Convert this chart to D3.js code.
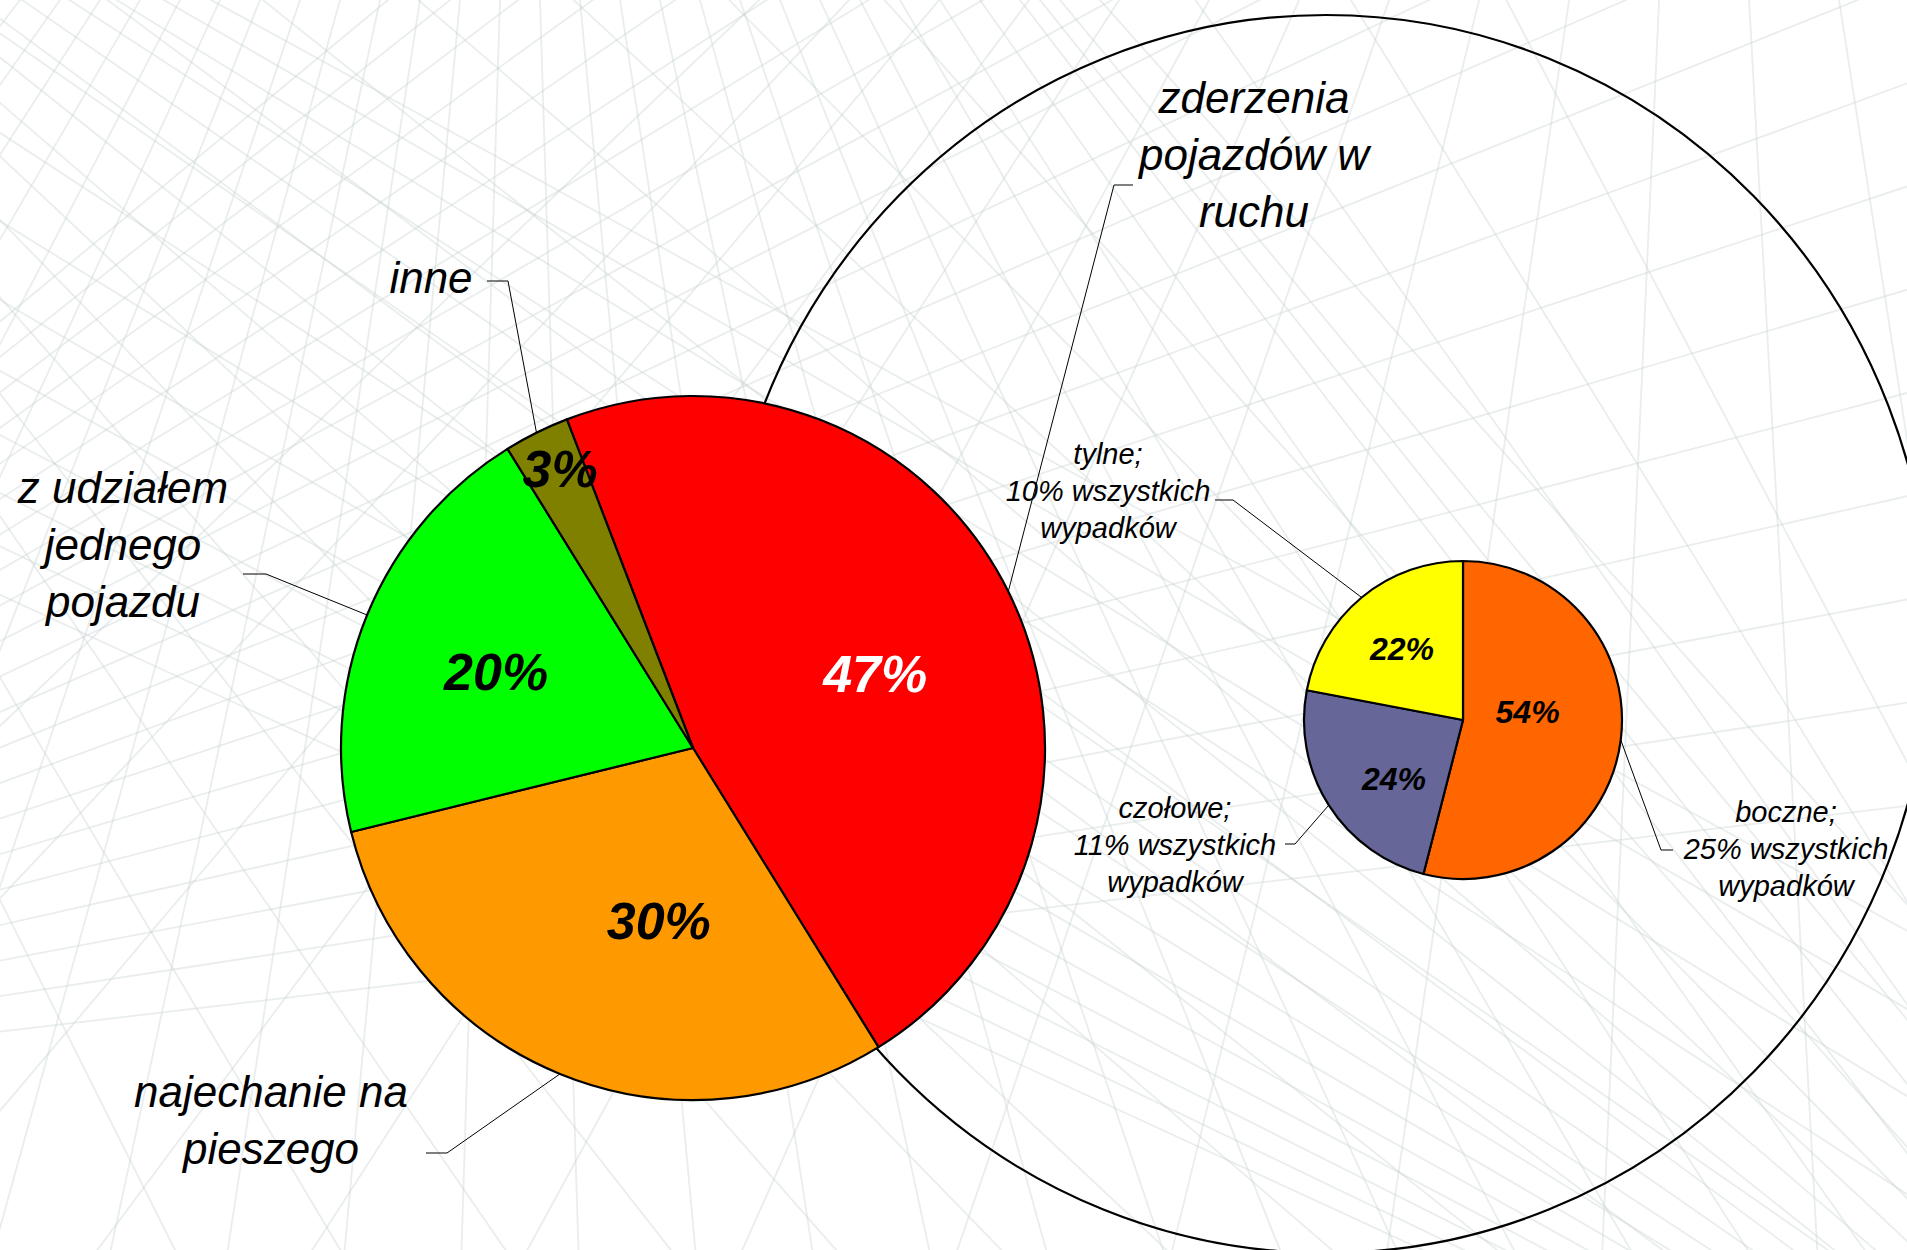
<!DOCTYPE html>
<html><head><meta charset="utf-8">
<script src="https://cdn.jsdelivr.net/npm/d3@7"></script>
<style>html,body{margin:0;padding:0;background:#fff;overflow:hidden;} svg{display:block;}</style>
</head><body>
<svg id="chart" width="1907" height="1250"></svg>
<script>
// ---------------- DATA ----------------
const mainCategories = ["zderzenia pojazdów w ruchu", "najechanie na pieszego", "z udziałem jednego pojazdu", "inne"];
const mainValues = [47, 30, 20, 3];
const mainColors = ["#FF0000", "#FF9900", "#00FF00", "#808000"];
const mainLabelLines = [["zderzenia", "pojazdów w", "ruchu"], ["najechanie na", "pieszego"], ["z udziałem", "jednego", "pojazdu"], ["inne"]];

const subCategories = ["boczne", "czołowe", "tylne"];
const subValues = [54, 24, 22];
const subShareOfAll = [25, 11, 10];
const subColors = ["#FF6600", "#666699", "#FFFF00"];

// ---------------- LAYOUT ----------------
const W = 1907, H = 1250;
const mainPie = {cx: 693, cy: 748, r: 352, start: -21};
const subPie = {cx: 1463, cy: 720, r: 159, start: 0};
const outerShape = {cx: 1326, cy: 634, rx: 605, ry: 619};

// percentage label placement (radius fraction, angle tweak in degrees)
const mainPctPlace = [{rf: 0.56, da: 4}, {rf: 0.5, da: -11}, {rf: 0.6, da: -1}, {rf: 0.88, da: 1}];
const subPctPlace = [{rf: 0.41, da: -15}, {rf: 0.57, da: -8}, {rf: 0.59, da: -1}];
const mainPctColor = ["#fff", "#000", "#000", "#000"];

// category label blocks: centre x, first baseline, leader start + elbow
const mainLabelPlace = [
  {x: 1254, y: 113, lx: 1133, ly: 185, ex: 1114},
  {x: 271, y: 1107, lx: 426, ly: 1153, ex: 447},
  {x: 123, y: 503, lx: 243, ly: 574, ex: 266},
  {x: 431, y: 293, lx: 487, ly: 281, ex: 508}
];
const subLabelPlace = [
  {x: 1786, y: 822, lx: 1673, ly: 850, ex: 1661},
  {x: 1175, y: 818, lx: 1285, ly: 844, ex: 1295},
  {x: 1108, y: 464, lx: 1215, ly: 500, ex: 1233}
];

const svg = d3.select("#chart");
const rad = d => d * Math.PI / 180;

// ---------------- BACKGROUND (decorative line pattern) ----------------
const bg = svg.append("g").attr("class", "background");
bg.append("rect").attr("width", W).attr("height", H).attr("fill", "#ffffff");
const fans = [
  {fx: 520, fy: -650, ends: d3.range(-1100, 2300, 120).map(x => [x, H + 50])},
  {fx: -1000, fy: 1150, ends: d3.range(-1300, 900, 105).map(y => [W + 50, y])},
  {fx: 2400, fy: 1700, ends: d3.range(-1400, 1500, 160).map(x => [x, -50])},
  {fx: -700, fy: -500, ends: d3.range(200, 2600, 170).map(x => [x, H + 50])},
  {fx: 1700, fy: -900, ends: d3.range(-600, 2400, 220).map(x => [x, H + 50])}
];
fans.forEach(f => {
  bg.selectAll(null).data(f.ends).enter().append("line")
    .attr("x1", f.fx).attr("y1", f.fy)
    .attr("x2", d => d[0]).attr("y2", d => d[1])
    .attr("stroke", "#c9d3d3").attr("stroke-opacity", 0.4).attr("stroke-width", 1.8);
});

// ---------------- OUTER ELLIPSE ----------------
svg.append("ellipse")
  .attr("cx", outerShape.cx).attr("cy", outerShape.cy)
  .attr("rx", outerShape.rx).attr("ry", outerShape.ry)
  .attr("fill", "none").attr("stroke", "#000").attr("stroke-width", 2.2);

// ---------------- PIE HELPERS ----------------
function drawPie(cfg, values, colors, pctPlace, pctColors, fontSize, labelData, labelPlace, labelFont, lineH) {
  const pie = d3.pie().sort(null)
    .startAngle(rad(cfg.start)).endAngle(rad(cfg.start) + 2 * Math.PI);
  const arcs = pie(values);
  const arc = d3.arc().innerRadius(0).outerRadius(cfg.r);
  const g = svg.append("g").attr("transform", `translate(${cfg.cx},${cfg.cy})`);
  g.selectAll("path.slice").data(arcs).enter().append("path")
    .attr("class", "slice")
    .attr("d", arc)
    .attr("fill", (d, i) => colors[i])
    .attr("stroke", "#000").attr("stroke-width", 2.2).attr("stroke-linejoin", "round");

  // percentage labels
  g.selectAll("text.pct").data(arcs).enter().append("text")
    .attr("class", "pct")
    .attr("x", (d, i) => {
      const a = (d.startAngle + d.endAngle) / 2 + rad(pctPlace[i].da);
      return Math.sin(a) * cfg.r * pctPlace[i].rf;
    })
    .attr("y", (d, i) => {
      const a = (d.startAngle + d.endAngle) / 2 + rad(pctPlace[i].da);
      return -Math.cos(a) * cfg.r * pctPlace[i].rf;
    })
    .attr("dy", "0.36em")
    .attr("text-anchor", "middle")
    .attr("font-family", "'Liberation Sans', Arial, sans-serif")
    .attr("font-style", "italic").attr("font-weight", "bold")
    .attr("font-size", fontSize)
    .attr("fill", (d, i) => pctColors[i])
    .text(d => d3.format(".0f")(d.value) + "%");

  // leader lines
  const lead = svg.append("g");
  arcs.forEach((d, i) => {
    const p = labelPlace[i];
    const a = (d.startAngle + d.endAngle) / 2;
    const tx = cfg.cx + Math.sin(a) * cfg.r;
    const ty = cfg.cy - Math.cos(a) * cfg.r;
    lead.append("path")
      .attr("d", d3.line()([[p.lx, p.ly], [p.ex, p.ly], [tx, ty]]))
      .attr("fill", "none").attr("stroke", "#000").attr("stroke-width", 1);
  });

  // category labels
  const lg = svg.append("g");
  labelData.forEach((lines, i) => {
    const p = labelPlace[i];
    const t = lg.append("text")
      .attr("text-anchor", "middle")
      .attr("font-family", "'Liberation Sans', Arial, sans-serif")
      .attr("font-style", "italic")
      .attr("font-size", labelFont)
      .attr("fill", "#000");
    lines.forEach((ln, j) => {
      t.append("tspan").attr("x", p.x).attr("y", p.y + j * lineH).text(ln);
    });
  });
}

drawPie(mainPie, mainValues, mainColors, mainPctPlace, mainPctColor, 52,
  mainLabelLines, mainLabelPlace, 44, 57);

const subLabelLines = subCategories.map((c, i) => [c + ";", subShareOfAll[i] + "% wszystkich", "wypadków"]);
drawPie(subPie, subValues, subColors, subPctPlace, ["#000", "#000", "#000"], 32,
  subLabelLines, subLabelPlace, 29, 37);
</script>
</body></html>
